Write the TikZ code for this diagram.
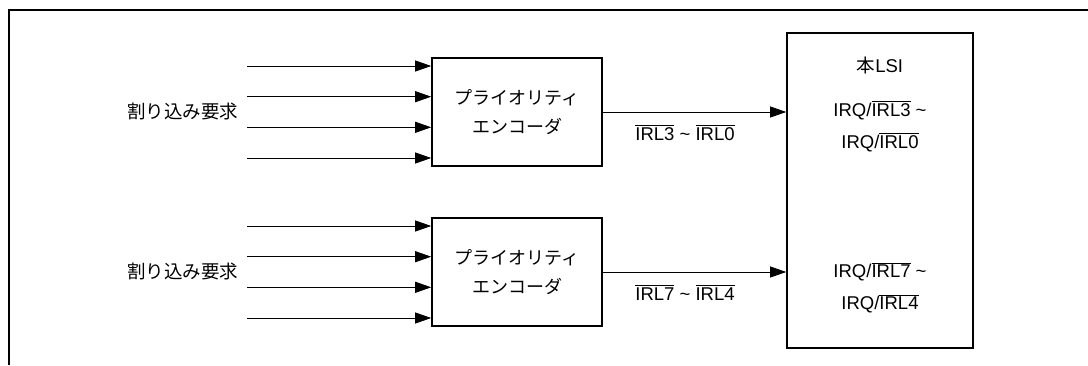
\documentclass[tikz,border=0pt]{standalone}
\usepackage{fontspec}
\setmainfont{Liberation Sans}
\newfontfamily\jp{Noto Sans CJK JP}
\usetikzlibrary{arrows.meta, positioning}
\newcommand{\ovl}[1]{\leavevmode\vbox{\hrule height 0.7pt\kern 1.8pt\hbox{#1}}}

\begin{document}
\begin{tikzpicture}[x=1pt,y=1pt,
  encbox/.style={draw,line width=1.6pt,minimum width=170pt,minimum height=108pt,
                 align=center,font=\fontsize{18}{29}\selectfont\jp},
  sig/.style={-{Triangle[length=16pt,width=11pt]},line width=0.8pt},
  lbl/.style={font=\fontsize{18.5}{32}\selectfont,align=center}
]
\useasboundingbox (0,0) rectangle (1088,365);
% outer frame (open at right and bottom)
\draw[line width=2.2pt] (9,0) -- (9,355) -- (1088,355);

% encoders and LSI
\node[encbox] (enc1) at (517,253) {プライオリティ\\エンコーダ};
\node[encbox] (enc2) at (517,93)  {プライオリティ\\エンコーダ};
\node[draw,line width=1.6pt,minimum width=186pt,minimum height=315pt] (lsi) at (880,174.5) {};

% interrupt request inputs
\foreach \e in {enc1,enc2}{
  \foreach \dy [count=\i] in {46,15.3,-15.3,-46}{
    \coordinate (\e in\i) at ([yshift=\dy]\e.west -| 247,0);
    \draw[sig] (\e in\i) -- (\e in\i -| \e.west);
  }
}
\node[lbl,anchor=east,font=\fontsize{18.5}{32}\selectfont\jp] (req1) at (242,253) {割り込み要求};
\node[lbl,anchor=east,font=\fontsize{18.5}{32}\selectfont\jp] (req2) at (242,93)  {割り込み要求};

% encoder outputs
\draw[sig] (enc1.east) -- (enc1.east -| lsi.west);
\draw[sig] (enc2.east) -- (enc2.east -| lsi.west);
\node[lbl] (irlA) at (685,232) {\ovl{IRL3} \textasciitilde\ \ovl{IRL0}};
\node[lbl] (irlB) at (685,72)  {\ovl{IRL7} \textasciitilde\ \ovl{IRL4}};

% LSI pins
\node[lbl] (lsiname) at (880,300) {{\jp 本}LSI};
\node[lbl] (pinA) at (880,238.5) {IRQ/\ovl{IRL3} \textasciitilde\\IRQ/\ovl{IRL0}};
\node[lbl] (pinB) at (880,77) {IRQ/\ovl{IRL7} \textasciitilde\\IRQ/\ovl{IRL4}};
\end{tikzpicture}
\end{document}
